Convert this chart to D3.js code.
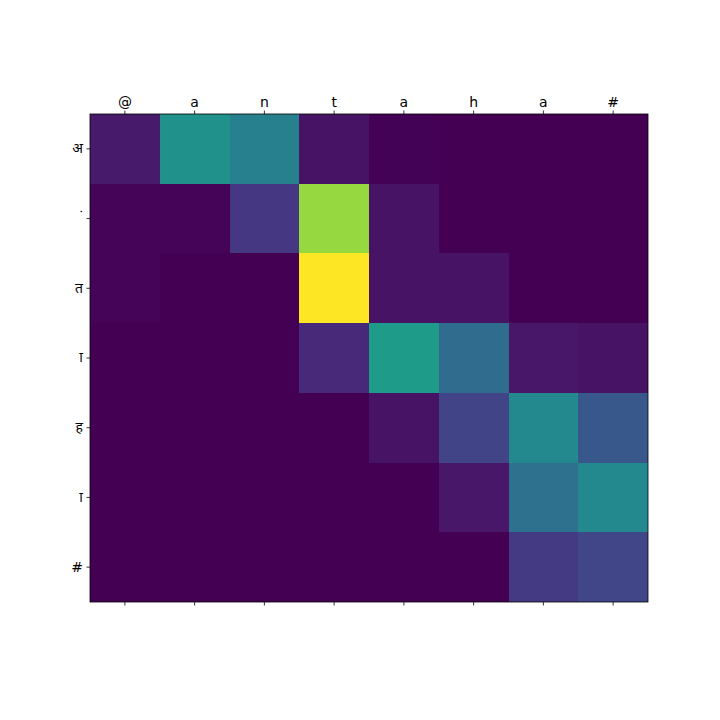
<!DOCTYPE html>
<html>
<head>
<meta charset="utf-8">
<script src="https://cdn.jsdelivr.net/npm/d3@7"></script>
<style>
  body { margin: 0; background: #fff; }
  svg text { font-family: "DejaVu Sans", "Noto Sans", sans-serif; font-size: 14px; fill: #000; }
</style>
</head>
<body>
<div id="chart"></div>
<script>
// Attention heatmap data
const inputChars = ["@", "a", "n", "t", "a", "h", "a", "#"];
const outputChars = ["अ", "ं", "त", "ा", "ह", "ा", "#"];
const weights = [
    [0.07, 0.50, 0.43, 0.05, 0.005, 0.002, 0.001, 0.001],
    [0.01, 0.01, 0.16, 0.84, 0.05, 0.002, 0.001, 0.001],
    [0.01, 0.002, 0.001, 1.00, 0.05, 0.05, 0.002, 0.001],
    [0.002, 0.001, 0.001, 0.11, 0.55, 0.35, 0.06, 0.05],
    [0.001, 0.001, 0.001, 0.001, 0.05, 0.20, 0.47, 0.27],
    [0.0, 0.0, 0.0, 0.0, 0.001, 0.06, 0.37, 0.47],
    [0.0, 0.0, 0.0, 0.0, 0.0, 0.001, 0.17, 0.21]
];

const width = 720, height = 720;
const margin = { top: 114, right: 72, bottom: 118, left: 90 };

const svg = d3.select("#chart")
    .append("svg")
    .attr("width", width)
    .attr("height", height);

const g = svg.append("g")
    .attr("transform", `translate(${margin.left}, ${margin.top})`);

const plotW = width - margin.left - margin.right;
const plotH = height - margin.top - margin.bottom;

const x = d3.scaleBand()
    .domain(d3.range(inputChars.length))
    .range([0, plotW])
    .padding(0);

const y = d3.scaleBand()
    .domain(d3.range(outputChars.length))
    .range([0, plotH])
    .padding(0);

const allVals = weights.flat();
const color = d3.scaleSequential(d3.interpolateViridis)
    .domain([d3.min(allVals), d3.max(allVals)]);

// Combining marks get a no-break space as base so no dotted circle shows
const isMark = s => /^\p{M}/u.test(s);
const labelText = s => isMark(s) ? "\u00A0" + s : s;

// Cells
const cells = [];
weights.forEach((row, i) => row.forEach((v, j) => cells.push({ i, j, v })));

g.selectAll(".cell")
    .data(cells)
    .enter()
    .append("rect")
    .attr("class", "cell")
    .attr("x", d => x(d.j))
    .attr("y", d => y(d.i))
    .attr("width", x.bandwidth())
    .attr("height", y.bandwidth())
    .attr("fill", d => color(d.v))
    .attr("shape-rendering", "crispEdges");

// Axes
const topAxis = d3.axisTop(x)
    .tickSize(3.5)
    .tickPadding(3.5)
    .tickFormat(i => inputChars[i]);

const bottomAxis = d3.axisBottom(x)
    .tickSize(3.5)
    .tickFormat("");

const leftAxis = d3.axisLeft(y)
    .tickSize(3.5)
    .tickPadding(3.5)
    .tickFormat(i => labelText(outputChars[i]));

g.append("g").call(topAxis);
g.append("g").attr("transform", `translate(0, ${plotH})`).call(bottomAxis);
g.append("g").call(leftAxis);

g.selectAll(".domain").remove();
g.selectAll(".tick line").attr("stroke", "#000").attr("stroke-width", 0.8);
g.selectAll(".tick text").style("font-size", "14px");

// Frame
g.append("rect")
    .attr("width", plotW)
    .attr("height", plotH)
    .attr("fill", "none")
    .attr("stroke", "#000")
    .attr("stroke-width", 0.8);
</script>
</body>
</html>
